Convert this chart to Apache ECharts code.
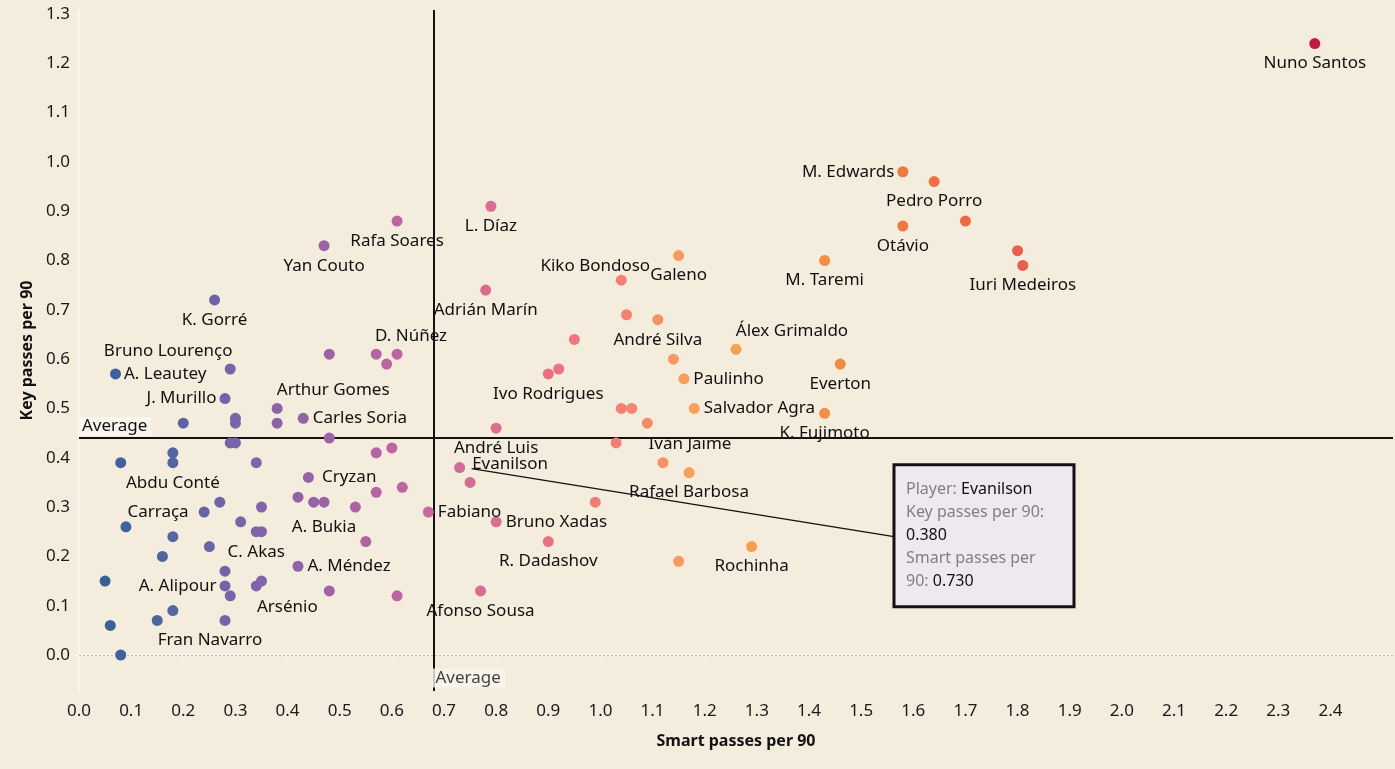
<!DOCTYPE html>
<html>
<head>
<meta charset="utf-8">
<script src="https://cdn.jsdelivr.net/npm/echarts@6/dist/echarts.min.js"></script>
<style>
html,body{margin:0;padding:0;background:#F4ECDC;}
#chart{width:1395px;height:769px;}
</style>
</head>
<body>
<div id="chart"></div>
<script>
// ---- data ----
const players = ["A. Leautey","Bruno Lourenço","J. Murillo","","","","Arthur Gomes","","Carles Soria","","","","D. Núñez","","","","","Abdu Conté","","","","","Cryzan","","","","","A. Bukia","","","","Carraça","Fabiano","","","C. Akas","","","","","","","A. Méndez","","A. Alipour","Arsénio","","","","","","","Fran Navarro","","","K. Gorré","Yan Couto","Rafa Soares","L. Díaz","Adrián Marín","Galeno","Kiko Bondoso","M. Taremi","","André Silva","","Álex Grimaldo","","Everton","","Ivo Rodrigues","Paulinho","","","Salvador Agra","K. Fujimoto","","André Luis","","Evanilson","","Bruno Xadas","R. Dadashov","Afonso Sousa","","Iván Jaime","Rafael Barbosa","Rochinha","","M. Edwards","Pedro Porro","Otávio","","","Iuri Medeiros","Nuno Santos"];
const smartPasses = [0.07,0.29,0.28,0.20,0.30,0.30,0.38,0.38,0.43,0.48,0.57,0.59,0.61,0.48,0.29,0.30,0.18,0.18,0.08,0.34,0.57,0.60,0.44,0.57,0.62,0.42,0.45,0.47,0.53,0.35,0.27,0.24,0.67,0.09,0.31,0.34,0.35,0.18,0.55,0.25,0.16,0.28,0.42,0.05,0.28,0.34,0.35,0.29,0.48,0.61,0.18,0.15,0.28,0.06,0.08,0.26,0.47,0.61,0.79,0.78,1.15,1.04,1.43,1.05,1.11,0.95,1.26,1.14,1.46,0.92,0.90,1.16,1.04,1.06,1.18,1.43,1.09,0.80,1.03,0.73,0.75,0.80,0.90,0.77,0.99,1.12,1.17,1.29,1.15,1.58,1.64,1.58,1.70,1.80,1.81,2.37];
const keyPasses = [0.57,0.58,0.52,0.47,0.48,0.47,0.50,0.47,0.48,0.61,0.61,0.59,0.61,0.44,0.43,0.43,0.41,0.39,0.39,0.39,0.41,0.42,0.36,0.33,0.34,0.32,0.31,0.31,0.30,0.30,0.31,0.29,0.29,0.26,0.27,0.25,0.25,0.24,0.23,0.22,0.20,0.17,0.18,0.15,0.14,0.14,0.15,0.12,0.13,0.12,0.09,0.07,0.07,0.06,0.00,0.72,0.83,0.88,0.91,0.74,0.81,0.76,0.80,0.69,0.68,0.64,0.62,0.60,0.59,0.58,0.57,0.56,0.50,0.50,0.50,0.49,0.47,0.46,0.43,0.38,0.35,0.27,0.23,0.13,0.31,0.39,0.37,0.22,0.19,0.98,0.96,0.87,0.88,0.82,0.79,1.24];
const avgSmart = 0.676;
const avgKey = 0.442;
const xTicks = [0.0,0.1,0.2,0.3,0.4,0.5,0.6,0.7,0.8,0.9,1.0,1.1,1.2,1.3,1.4,1.5,1.6,1.7,1.8,1.9,2.0,2.1,2.2,2.3,2.4];
const yTicks = [0.0,0.1,0.2,0.3,0.4,0.5,0.6,0.7,0.8,0.9,1.0,1.1,1.2,1.3];
const highlighted = "Evanilson";

// ---- styles / layout ----
const FONT = '"Noto Sans", "Open Sans", sans-serif';
const palette = ['#2F5E91','#4B65A0','#7964AA','#9862A8','#BC64A2','#D56C95','#EA7183','#F58172','#F8A757','#F5994A','#F08544','#EE6F46','#E85F4C','#DF4E4B','#D63B47','#CB2843','#C0183F'];
const labelPlacement = {
  "A. Leautey":{pos:'right',dist:3},
  "Bruno Lourenço":{pos:'top',dist:4,off:[-62,0]},
  "J. Murillo":{pos:'left',dist:3},
  "Arthur Gomes":{pos:'top',dist:4,off:[56,0]},
  "Carles Soria":{pos:'right',dist:4},
  "D. Núñez":{pos:'top',dist:4,off:[14,0]},
  "Abdu Conté":{pos:'bottom',dist:6},
  "Cryzan":{pos:'right',dist:8},
  "A. Bukia":{pos:'bottom',dist:11},
  "Carraça":{pos:'left',dist:10},
  "Fabiano":{pos:'right',dist:4},
  "C. Akas":{pos:'bottom',dist:6},
  "A. Méndez":{pos:'right',dist:4},
  "A. Alipour":{pos:'left',dist:3},
  "Arsénio":{pos:'bottom',dist:7,off:[31,0]},
  "Fran Navarro":{pos:'bottom',dist:6,off:[-15,0]},
  "Kiko Bondoso":{pos:'top',dist:0,off:[-26,0]},
  "Álex Grimaldo":{pos:'top',dist:4,off:[56,0]},
  "Paulinho":{pos:'right',dist:4},
  "Salvador Agra":{pos:'right',dist:4},
  "Evanilson":{pos:'right',dist:7,off:[0,-3]},
  "Bruno Xadas":{pos:'right',dist:4},
  "Iván Jaime":{pos:'top',dist:5,off:[27,0]},
  "M. Edwards":{pos:'left',dist:3}
};
const tooltipAnchor = [1.563, 0.386]; // data coords of the annotation box top-left

const seriesData = players.map((n, i) => {
  const item = { name: n, value: [smartPasses[i], keyPasses[i]] };
  if (n) {
    const p = labelPlacement[n] || {pos:'bottom', dist:6};
    item.label = { show: true, position: p.pos, distance: p.dist };
  } else {
    item.label = { show: false };
  }
  return item;
});

const chart = echarts.init(document.getElementById('chart'), null, {renderer:'canvas'});
const axisCol = '#FBF8F1';
const option = {
  backgroundColor: '#F4ECDC',
  animation: false,
  textStyle: { fontFamily: FONT },
  grid: { left: 79, right: 2, top: 10, bottom: 78, containLabel: false },
  xAxis: {
    type: 'value', min: 0, max: 2.52,
    name: 'Smart passes per 90', nameLocation: 'middle', nameGap: 42,
    nameTextStyle: { fontFamily: FONT, fontWeight: 'bold', fontSize: 16, color: '#111' },
    axisLine: { show: true, lineStyle: { color: axisCol, width: 1.5 } },
    axisTick: { show: true, customValues: xTicks, length: 4, lineStyle: { color: axisCol } },
    axisLabel: { customValues: xTicks, formatter: v => (+v).toFixed(1), fontFamily: FONT, fontSize: 17, color: '#1a1a1a', margin: 12 },
    splitLine: { show: false }
  },
  yAxis: {
    type: 'value', min: -0.073, max: 1.308,
    name: 'Key passes per 90', nameLocation: 'middle', nameGap: 41,
    nameTextStyle: { fontFamily: FONT, fontWeight: 'bold', fontSize: 16, color: '#111' },
    axisLine: { show: true, lineStyle: { color: axisCol, width: 1.5 } },
    axisTick: { show: true, customValues: yTicks, length: 4, lineStyle: { color: axisCol } },
    axisLabel: { customValues: yTicks, formatter: v => (+v).toFixed(1), fontFamily: FONT, fontSize: 17, color: '#1a1a1a', margin: 9 },
    splitLine: { show: false }
  },
  visualMap: {
    show: false, type: 'continuous', seriesIndex: 0, dimension: 0,
    min: 0, max: 2.4, inRange: { color: palette }
  },
  series: [
    {
      type: 'scatter',
      symbolSize: 11,
      data: seriesData,
      itemStyle: { opacity: 1 },
      label: { formatter: '{b}', fontFamily: FONT, fontSize: 17, color: '#111111', opacity: 1 },
      labelLayout: function (params) {
        const n = players[params.dataIndex];
        const pl = labelPlacement[n];
        const off = (pl && pl.off) || [0, 0];
        return { dx: off[0], dy: off[1], hideOverlap: false };
      },
      z: 5,
      markLine: {
        silent: true, symbol: 'none', animation: false,
        data: [
          { yAxis: 0, lineStyle: { color: '#C4BCAE', width: 1, type: [2, 2] }, label: { show: false } },
          { yAxis: avgKey, lineStyle: { color: '#111', width: 2, type: 'solid' },
            label: { show: true, position: 'insideStartTop', formatter: 'Average', distance: [0, 2],
                     fontFamily: FONT, fontSize: 17, color: '#111', backgroundColor: '#FAF6EE', padding: [1, 4, 1, 3] } },
          { xAxis: avgSmart, lineStyle: { color: '#111', width: 2, type: 'solid' }, label: { show: false } }
        ]
      }
    },
    {
      type: 'scatter',
      symbolSize: 0,
      silent: true,
      data: [[avgSmart, -0.073]],
      itemStyle: { color: 'transparent' },
      label: { show: true, position: 'right', distance: 1, offset: [0, -13], formatter: 'Average',
               fontFamily: FONT, fontSize: 17, color: '#111', backgroundColor: '#FAF6EE', padding: [1, 4, 1, 3] },
      z: 6
    }
  ]
};
chart.setOption(option);

// annotation (static tooltip) for highlighted player
const hi = players.indexOf(highlighted);
const hx = smartPasses[hi], hy = keyPasses[hi];
const p = chart.convertToPixel({ gridIndex: 0 }, [hx, hy]);
const b = chart.convertToPixel({ gridIndex: 0 }, tooltipAnchor);
const boxW = 180, boxH = 142;
chart.setOption({
  graphic: [
    { type: 'line', z: 20, silent: true,
      shape: { x1: p[0] + 12, y1: p[1] + 1, x2: b[0], y2: b[1] + 72 },
      style: { stroke: '#111', lineWidth: 1.3 } },
    { type: 'rect', z: 21, silent: true,
      shape: { x: b[0], y: b[1], width: boxW, height: boxH },
      style: { fill: '#EFE8F1', stroke: '#111', lineWidth: 3 } },
    { type: 'text', z: 22, silent: true, x: b[0] + 12, y: b[1] + 13,
      style: {
        text: '{g|Player: }{k|' + highlighted + '}\n{g|Key passes per 90:}\n{k|' + hy.toFixed(3) + '}\n{g|Smart passes per}\n{g|90: }{k|' + hx.toFixed(3) + '}',
        fontFamily: FONT, fontSize: 16, lineHeight: 23,
        rich: {
          g: { fill: '#808080', fontFamily: FONT, fontSize: 16, lineHeight: 23 },
          k: { fill: '#111111', fontFamily: FONT, fontSize: 16, lineHeight: 23 }
        }
      } }
  ]
});
</script>
</body>
</html>
